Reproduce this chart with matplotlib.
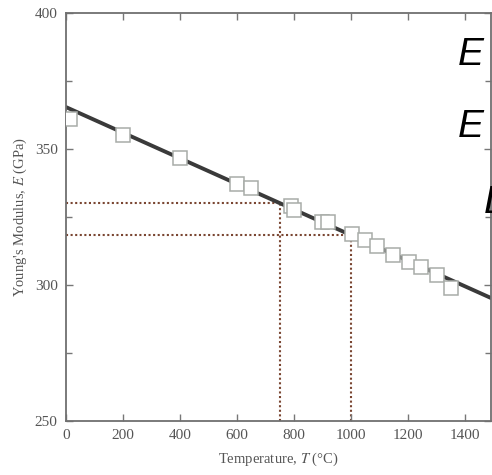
import matplotlib.pyplot as plt
import numpy as np
from matplotlib.ticker import MultipleLocator

# measured points (temperature in C, modulus in GPa)
temp = [14, 200, 400, 600, 650, 788, 798, 896, 917, 1001, 1047, 1092, 1145, 1204, 1246, 1299, 1351]
modulus = [361.1, 355.2, 346.8, 337.3, 335.8, 329.2, 327.4, 323.3, 323.3, 318.6, 316.4, 314.5, 310.9, 308.3, 306.5, 303.5, 298.8]

# linear fit shown in the figure
fit_intercept = 365.4
fit_slope = -0.0471

# read-off temperatures (dotted guides)
guide_temps = [750, 1000]

plt.rcParams['font.family'] = 'Liberation Serif'
plt.rcParams['mathtext.fontset'] = 'stix'

fig = plt.figure(figsize=(4.92, 4.75), dpi=100)
ax = fig.add_axes([66 / 492, 54 / 475, 425 / 492, 408 / 475])

t_line = np.array([0, 1600])
ax.plot(t_line, fit_intercept + fit_slope * t_line, color='#3a3a3a', lw=2.8, zorder=2)

for tg in guide_temps:
    eg = fit_intercept + fit_slope * tg
    ax.plot([0, tg], [eg, eg], ls=(0, (1, 1.2)), color='#7a4632', lw=1.5, zorder=1)
    ax.plot([tg, tg], [250, eg], ls=(0, (1, 1.2)), color='#7a4632', lw=1.5, zorder=1)

ax.plot(temp, modulus, 's', ms=9.5, mfc='white', mec='#a8aca8', mew=1.1, zorder=3)

ax.set_xlim(0, 1490)
ax.set_ylim(250, 400)
ax.xaxis.set_major_locator(MultipleLocator(200))
ax.yaxis.set_major_locator(MultipleLocator(50))
ax.yaxis.set_minor_locator(MultipleLocator(25))
ax.tick_params(which='both', direction='in', top=True, right=True, colors='#777777',
               labelcolor='#555555', labelsize=11, length=5, width=1, pad=6)
ax.tick_params(which='minor', length=4)
for s in ax.spines.values():
    s.set_color('#707070')
    s.set_linewidth(1.3)

ax.set_xlabel('Temperature, $T$ (°C)', fontsize=10.5, color='#555555', labelpad=6)
ax.set_ylabel("Young's Modulus, $E$ (GPa)", fontsize=10.5, color='#555555', labelpad=4)

# slide text partly cut off at right edge
for txt, x, y in [('E', 458, 65), ('E', 458, 137), ('L', 484, 213)]:
    fig.text(x / 492, 1 - y / 475, txt, fontsize=28, style='italic',
             family='Liberation Sans', color='black', va='baseline', ha='left')

fig.savefig('out.png', dpi=100)
